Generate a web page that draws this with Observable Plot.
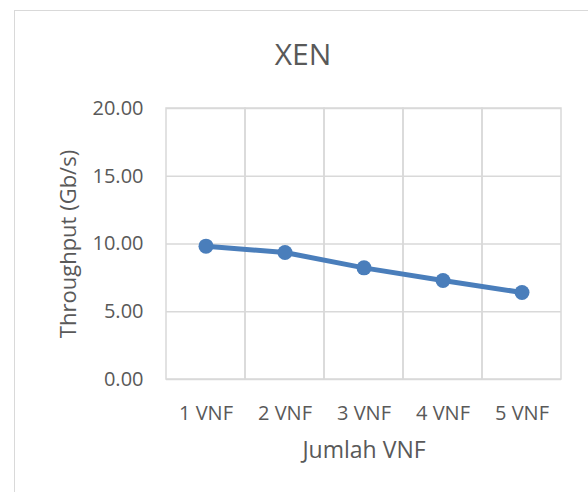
<!DOCTYPE html>
<html>
<head>
<meta charset="utf-8">
<script src="https://cdn.jsdelivr.net/npm/d3@7"></script>
<script src="https://cdn.jsdelivr.net/npm/@observablehq/plot@0.6"></script>
<style>
  html, body { margin: 0; padding: 0; background: #fff; }
  #wrap { position: relative; width: 588px; height: 492px; overflow: hidden; }
  #border { position: absolute; left: 14px; top: 10px; width: 600px; height: 500px; border: 1px solid #d9d9d9; box-sizing: border-box; }
  #chart { position: absolute; left: 0; top: 0; }
</style>
</head>
<body>
<div id="wrap"><div id="border"></div><div id="chart"></div></div>
<script>
const title = "XEN";
const categories = ["1 VNF", "2 VNF", "3 VNF", "4 VNF", "5 VNF"];
const throughput = [9.84, 9.37, 8.24, 7.31, 6.42];
const yTicks = [0, 5, 10, 15, 20];
const xLabel = "Jumlah VNF";
const yLabel = "Throughput (Gb/s)";

const data = categories.map((c, i) => ({cat: c, value: throughput[i]}));
const textColor = "#595959";
const gridColor = "#d9d9d9";
const lineColor = "#4a7ebb";
const font = "'Open Sans', sans-serif";

const chart = Plot.plot({
  width: 588,
  height: 492,
  marginLeft: 166,
  marginRight: 27,
  marginTop: 108,
  marginBottom: 113,
  style: {fontFamily: font, fontSize: "20px", color: textColor, background: "transparent"},
  x: {type: "band", domain: categories, padding: 0},
  y: {domain: [0, 20]},
  marks: [
    Plot.ruleY(yTicks, {stroke: gridColor, strokeWidth: 1.5}),
    Plot.barY(categories, {x: d => d, y1: 0, y2: 20, fill: "none", stroke: gridColor, strokeWidth: 1.5}),
    Plot.axisY({ticks: yTicks, tickFormat: d => d.toFixed(2), tickSize: 0, tickPadding: 23,
      label: null, fontSize: 20, fill: textColor}),
    Plot.axisX({tickSize: 0, tickPadding: 26, label: null, fontSize: 20, fill: textColor}),
    Plot.text([yLabel], {frameAnchor: "left", dx: -98, rotate: -90, textAnchor: "middle", lineAnchor: "middle", text: d => d, fontSize: 22, fill: textColor}),
    Plot.text([xLabel], {frameAnchor: "bottom", dy: 71, textAnchor: "middle", lineAnchor: "middle", text: d => d, fontSize: 23, fill: textColor}),
    Plot.line(data, {x: "cat", y: "value", stroke: lineColor, strokeWidth: 5}),
    Plot.dot(data, {x: "cat", y: "value", fill: lineColor, r: 7.5}),
    Plot.text([title], {frameAnchor: "top", dx: -61, dy: -53, lineAnchor: "middle", text: d => d, fontSize: 30, fill: textColor})
  ]
});
document.getElementById("chart").appendChild(chart);
</script>
</body>
</html>
